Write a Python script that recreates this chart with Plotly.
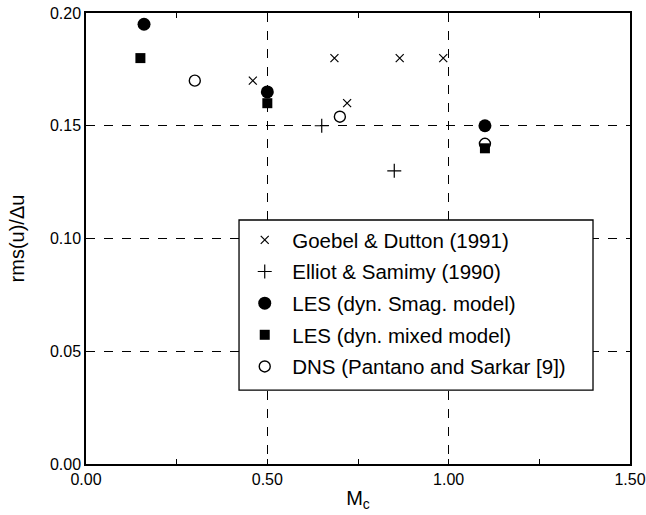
import plotly.graph_objects as go

# Data
goebel_x = [0.46, 0.685, 0.72, 0.865, 0.985]
goebel_y = [0.170, 0.180, 0.160, 0.180, 0.180]

elliot_x = [0.65, 0.85]
elliot_y = [0.150, 0.130]

smag_x = [0.16, 0.50, 1.10]
smag_y = [0.195, 0.165, 0.150]

mixed_x = [0.15, 0.50, 1.10]
mixed_y = [0.180, 0.160, 0.140]

dns_x = [0.30, 0.70, 1.10]
dns_y = [0.170, 0.154, 0.142]

x_ticks = [0.0, 0.5, 1.0, 1.5]
x_ticklabels = ["0.00", "0.50", "1.00", "1.50"]
y_ticks = [0.0, 0.05, 0.10, 0.15, 0.20]
y_ticklabels = ["0.00", "0.05", "0.10", "0.15", "0.20"]

FONT = "Liberation Sans, Arial, Helvetica, sans-serif"

fig = go.Figure()

fig.add_trace(go.Scatter(
    x=goebel_x, y=goebel_y, mode="markers", name="Goebel &amp; Dutton (1991)",
    legendrank=1, legendgroup="g1",
    marker=dict(symbol="x-thin", size=8, color="black", line=dict(width=1.2, color="black"))))
fig.add_trace(go.Scatter(
    x=elliot_x, y=elliot_y, mode="markers", name="Elliot &amp; Samimy (1990)",
    legendrank=2, legendgroup="g2",
    marker=dict(symbol="cross-thin", size=10, color="black", line=dict(width=1.2, color="black"))))
fig.add_trace(go.Scatter(
    x=smag_x, y=smag_y, mode="markers", name="LES (dyn. Smag. model)",
    legendrank=3, legendgroup="g3",
    marker=dict(symbol="circle", size=13, color="black", line=dict(width=0))))
fig.add_trace(go.Scatter(
    x=dns_x, y=dns_y, mode="markers", name="DNS (Pantano and Sarkar [9])",
    legendrank=5, legendgroup="g5",
    marker=dict(symbol="circle-open", size=11, color="black", line=dict(width=1.4, color="black"))))
fig.add_trace(go.Scatter(
    x=mixed_x, y=mixed_y, mode="markers", name="LES (dyn. mixed model)",
    legendrank=4, legendgroup="g4",
    marker=dict(symbol="square", size=10, color="black", line=dict(width=0))))

# legend frame (white box over the grid, behind the legend entries)
fig.add_shape(type="rect", xref="paper", yref="paper",
              x0=0.2813, x1=0.932, y0=0.164, y1=0.541,
              layer="above", fillcolor="white",
              line=dict(color="black", width=1.3))

fig.update_layout(
    width=646, height=515,
    margin=dict(l=86, r=16, t=13, b=51),
    paper_bgcolor="white", plot_bgcolor="white",
    font=dict(family=FONT, color="black", size=16),
    showlegend=True,
    legend=dict(
        x=0.278, y=0.541, xanchor="left", yanchor="top",
        bgcolor="rgba(0,0,0,0)", borderwidth=0,
        font=dict(family=FONT, size=20.5, color="black"),
        tracegroupgap=2, itemwidth=45,
    ),
    xaxis=dict(
        range=[0, 1.5], tickvals=x_ticks, ticktext=x_ticklabels,
        showline=True, linecolor="black", linewidth=1.5, mirror="ticks",
        ticks="inside", ticklen=5, tickcolor="black",
        showgrid=True, gridcolor="black", gridwidth=1, griddash="dash",
        zeroline=False, automargin=False,
        minor=dict(dtick=0.25, ticks="inside", ticklen=5, tickcolor="black", showgrid=False),
        tickfont=dict(size=16),
        title=dict(text="M<sub>c</sub>", font=dict(size=20), standoff=4),
    ),
    yaxis=dict(
        range=[0, 0.2], tickvals=y_ticks, ticktext=y_ticklabels,
        showline=True, linecolor="black", linewidth=1.5, mirror=True,
        ticks="", showgrid=True, gridcolor="black", gridwidth=1, griddash="dash",
        zeroline=False, automargin=False,
        tickfont=dict(size=16),
        title=dict(text="rms(u)/Δu", font=dict(size=20), standoff=20),
    ),
)

fig.write_html("out.html")
